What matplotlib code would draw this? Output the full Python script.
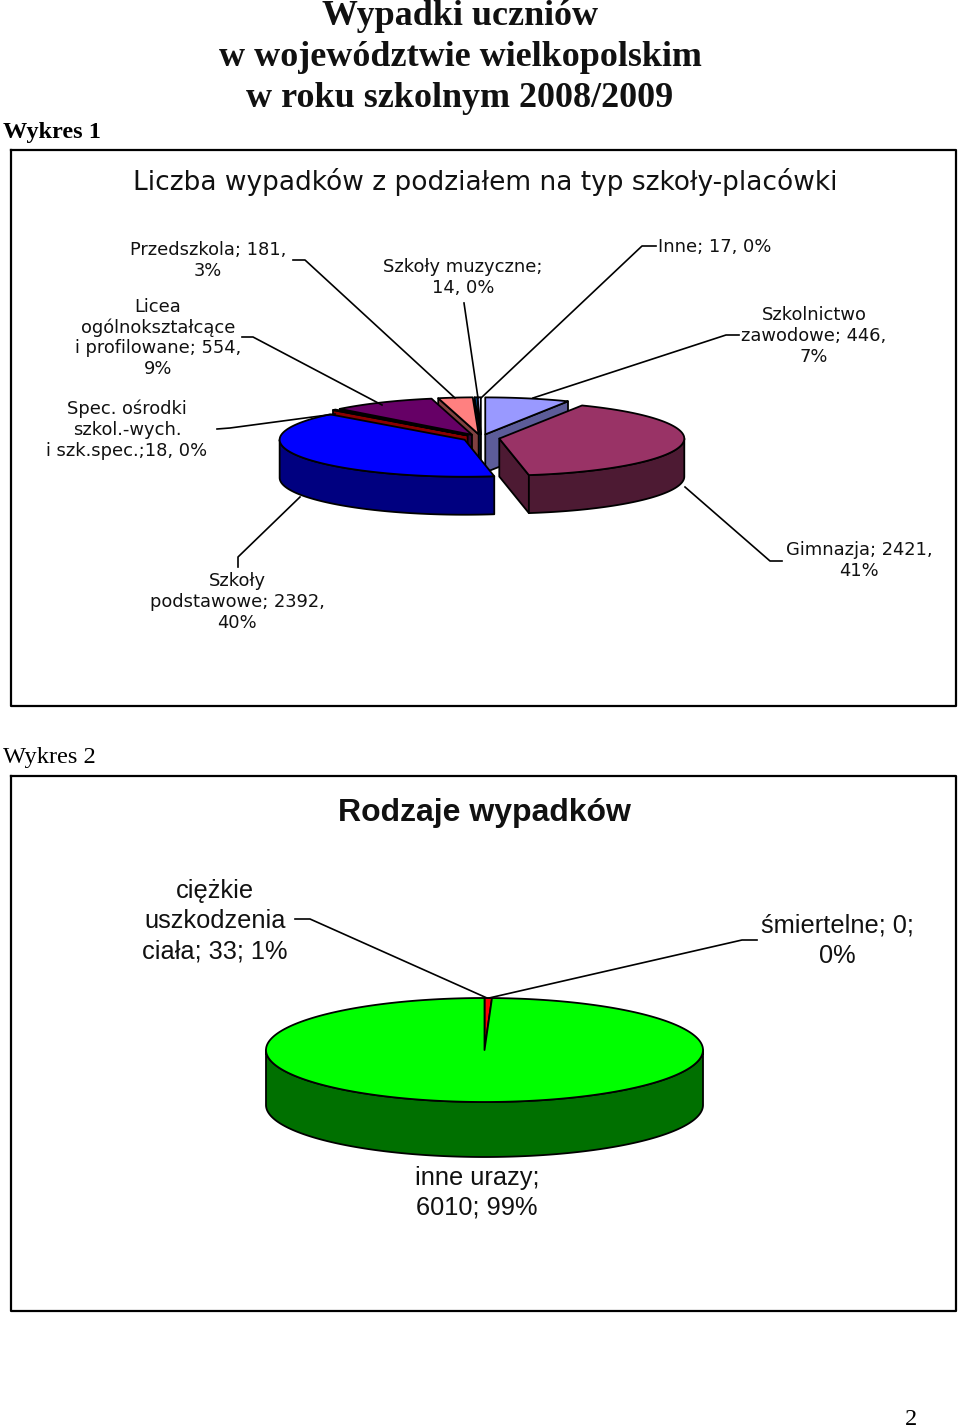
import numpy as np
import matplotlib
matplotlib.use('Agg')
import matplotlib.pyplot as plt

# wykres 1, clockwise from 12 o'clock
schools = ['Szkolnictwo zawodowe', 'Gimnazja', 'Szkoły podstawowe', 'Spec. ośrodki',
           'Licea', 'Przedszkola', 'Szkoły muzyczne', 'Inne']
school_counts = [446, 2421, 2392, 18, 554, 181, 14, 17]
school_colors = ['#9999FF', '#993366', '#0000FF', '#800000',
                 '#660066', '#FF8080', '#0066CC', '#CCCCFF']
school_sides = ['#5C5C99', '#4D1A33', '#000080', '#8A0000',
                '#330033', '#804040', '#003366', '#666680']

# wykres 2
injury_types = ['ciężkie uszkodzenia ciała', 'śmiertelne', 'inne urazy']
injury_counts = [33, 0, 6010]
injury_colors = ['#FF0000', '#000080', '#00FF00']
injury_sides = ['#800000', '#000040', '#007000']

title_lines = ['Wypadki uczniów', 'w województwie wielkopolskim', 'w roku szkolnym 2008/2009']

W, H = 960, 1428
SANS = 'Liberation Sans'
WIDE = 'DejaVu Sans'
SERIF = 'Liberation Serif'


def arc(cx, cy, rx, ry, a0, a1):
    # angles in degrees, clockwise from top, y axis goes down
    t = np.radians(np.linspace(a0, a1, max(2, int(abs(a1 - a0)) + 2)))
    return cx + rx * np.sin(t), cy - ry * np.cos(t)


def pie3d(ax, values, colors, sides, cx, cy, rx, ry, depth, explode=0.0, lw=1.3):
    values = np.array(values, dtype=float)
    edges = np.concatenate([[0], np.cumsum(values) / values.sum() * 360])
    order = np.argsort(-np.cos(np.radians((edges[:-1] + edges[1:]) / 2)))
    for i in order:
        a0, a1 = edges[i], edges[i + 1]
        if a1 <= a0:
            continue
        mid = np.radians((a0 + a1) / 2)
        x0 = cx + explode * rx * np.sin(mid)
        y0 = cy - explode * ry * np.cos(mid)
        kw = dict(facecolor=sides[i], edgecolor='black', linewidth=lw, joinstyle='round')
        # cut faces turned to the viewer
        for a, vis in ((a0, np.sin(np.radians(a0)) < 0), (a1, np.sin(np.radians(a1)) > 0)):
            if vis:
                ex, ey = arc(x0, y0, rx, ry, a, a)
                ex, ey = ex[0], ey[0]
                ax.fill([x0, ex, ex, x0], [y0, ey, ey + depth, y0 + depth], **kw)
        # outer wall, front half only
        lo, hi = max(a0, 90), min(a1, 270)
        if hi > lo:
            xs, ys = arc(x0, y0, rx, ry, lo, hi)
            ax.fill(np.r_[xs, xs[::-1]], np.r_[ys, ys[::-1] + depth], **kw)
        xs, ys = arc(x0, y0, rx, ry, a0, a1)
        ax.fill(np.r_[x0, xs], np.r_[y0, ys], facecolor=colors[i], edgecolor='black',
                linewidth=lw, joinstyle='round')


def label(ax, x, y, lines, size, pitch, family=WIDE):
    # y is the baseline of the first line
    for k, line in enumerate(lines):
        ax.text(x, y + k * pitch, line, ha='center', va='baseline', family=family,
                fontsize=size, color='#111111')


def leader(ax, xs, ys):
    ax.plot(xs, ys, color='black', lw=1.2, solid_joinstyle='round')


fig = plt.figure(figsize=(W / 100, H / 100), dpi=100)
ax = fig.add_axes([0, 0, 1, 1])
ax.set_xlim(0, W)
ax.set_ylim(H, 0)
ax.axis('off')

# page text
for y, line in zip([25, 66, 107], title_lines):
    ax.text(460, y, line, ha='center', va='baseline', family=SERIF, fontweight='bold',
            fontsize=25.9, color='#111111')
ax.text(3, 138, 'Wykres 1', ha='left', va='baseline', family=SERIF, fontweight='bold', fontsize=17.5)
ax.text(3, 763, 'Wykres 2', ha='left', va='baseline', family=SERIF, fontsize=17.6)
ax.text(911, 1425, '2', ha='center', va='baseline', family=SERIF, fontsize=17.5)

# chart frames
for top, bottom in ((150, 706), (776, 1311)):
    ax.plot([11, 956, 956, 11, 11], [top, top, bottom, bottom, top], color='black', lw=1.6)

# wykres 1
ax.text(485, 190, 'Liczba wypadków z podziałem na typ szkoły-placówki', ha='center', va='baseline',
        family=WIDE, fontsize=19, color='#111111')
leader(ax, [293, 305, 455], [260, 260, 398])
leader(ax, [242, 253, 382], [337, 337, 405])
leader(ax, [217, 230, 335], [429, 428, 414])
leader(ax, [464, 478], [303, 398])
leader(ax, [656, 642, 481], [246, 246, 398])
leader(ax, [739, 726, 533], [335, 335, 398])
leader(ax, [782, 770, 685], [561, 561, 487])
leader(ax, [238, 238, 300], [567, 557, 497])
pie3d(ax, school_counts, school_colors, school_sides, 481, 438, 185, 37, 38, explode=0.1)

size = 12.9
label(ax, 208, 255, ['Przedszkola; 181,', '3%'], size, 21)
label(ax, 158, 312, ['Licea', 'ogólnokształcące', 'i profilowane; 554,', '9%'], size, 20.7)
label(ax, 127, 414, ['Spec. ośrodki', 'szkol.-wych.', 'i szk.spec.;18, 0%'], size, 21)
label(ax, 463, 272, ['Szkoły muzyczne;', '14, 0%'], size, 21)
label(ax, 715, 252, ['Inne; 17, 0%'], size, 21)
label(ax, 814, 320, ['Szkolnictwo', 'zawodowe; 446,', '7%'], size, 21)
label(ax, 859, 555, ['Gimnazja; 2421,', '41%'], size, 21)
label(ax, 237, 586, ['Szkoły', 'podstawowe; 2392,', '40%'], size, 21)

# wykres 2
ax.text(484, 821, 'Rodzaje wypadków', ha='center', va='baseline', family=SANS, fontweight='bold',
        fontsize=23, color='#111111')
leader(ax, [295, 310, 487], [919, 919, 998])
leader(ax, [757, 742, 489], [940, 940, 998])
pie3d(ax, injury_counts, injury_colors, injury_sides, 484.5, 1050, 218.5, 52, 55)

size = 18.3
label(ax, 215, 898, ['ciężkie', 'uszkodzenia', 'ciała; 33; 1%'], size, 30, family=SANS)
label(ax, 837, 933, ['śmiertelne; 0;', '0%'], size, 30, family=SANS)
label(ax, 477, 1185, ['inne urazy;', '6010; 99%'], size, 30, family=SANS)

fig.savefig('out.png', dpi=100)
